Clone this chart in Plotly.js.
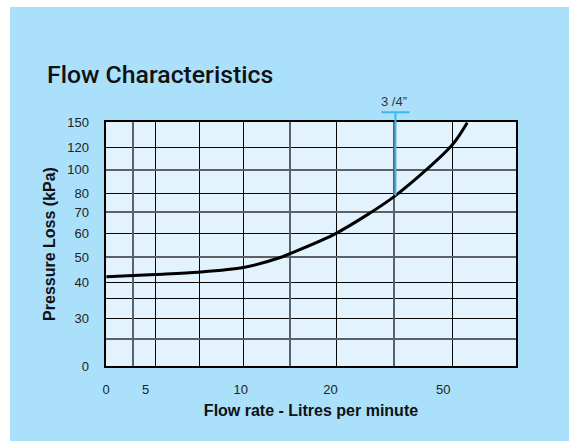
<!DOCTYPE html>
<html><head><meta charset="utf-8">
<script src="https://cdn.plot.ly/plotly-3.0.1.min.js"></script>
<style>
html,body{margin:0;padding:0;background:#fff;}
#bg{position:absolute;left:10px;top:7px;width:559px;height:434px;background:#abe0fb;}
#chart{position:absolute;left:0;top:0;width:579px;height:441px;}
</style></head><body>
<div id="bg"></div><div id="chart"></div>
<script>
// Data (flow in L/min, pressure loss in kPa)
const flow = [3.47, 5.07, 7.06, 10, 13.3, 14.4, 20.4, 32.4, 50.1, 56.4];
const pressure = [41.8, 42.6, 43.4, 45.1, 49.0, 50.7, 59.7, 81.7, 123.7, 149.2];
const xTickLabels = ['0', '5', '10', '20', '50'];
const yTickLabels = ['0', '30', '40', '50', '60', '70', '80', '100', '120', '150'];
const markerLabel = '3 /4\u201D';
const markerIndex = 7;

// Axis configuration (where the printed grid and labels sit)
const xLabelPos = [3.46, 4.7, 9.8, 19.6, 46.9];
const xGridDark = [5.08, 7.1, 10, 20.5, 50.4];
const xGridGrey = [4.25, 14.3, 32.1];
const yLabelPos = [20, 29.7, 39.8, 49.0, 59.7, 71.2, 83.1, 101.3, 121.4, 150];
const yGridDark = [29.7, 34.8, 39.8, 59.7, 83.1, 121.4];
const yGridGrey = [24.9, 49.0, 71.2, 101.3];

const FONT = 'Liberation Sans, Arial, Helvetica, sans-serif';
const xRange = [0.539, 1.915];
const yRange = [Math.log10(20), Math.log10(150)];
const pxPerDecadeX = 298;

const traces = [
  {x: [], y: [], mode: 'lines', xaxis: 'x3', yaxis: 'y3', showlegend: false, hoverinfo: 'skip'},
  {x: [], y: [], mode: 'lines', xaxis: 'x2', yaxis: 'y2', showlegend: false, hoverinfo: 'skip'},
  {x: flow, y: pressure, mode: 'lines', xaxis: 'x', yaxis: 'y',
   line: {color: '#000', width: 3, shape: 'spline', smoothing: 0.8},
   hoverinfo: 'x+y', showlegend: false}
];

const base = {type: 'log', autorange: false, tickmode: 'array', ticks: '', zeroline: false, fixedrange: true};

const markX = flow[markerIndex];
const markY = pressure[markerIndex];
const capHalf = Math.pow(10, 14 / pxPerDecadeX);

const layout = {
  width: 579, height: 441,
  margin: {l: 106, r: 63, t: 122, b: 75},
  paper_bgcolor: 'rgba(0,0,0,0)',
  plot_bgcolor: '#e2f3fd',
  font: {family: FONT, color: '#222'},
  title: {text: 'Flow Characteristics', font: {family: 'Roboto, ' + FONT, size: 24.8, color: '#111', weight: 500},
    xref: 'container', yref: 'container', x: 47/579, xanchor: 'left', y: 1 - 74/441, yanchor: 'middle'},
  // dark grid + frame
  xaxis: Object.assign({}, base, {range: xRange, tickvals: xGridDark, showticklabels: false,
    showgrid: true, gridcolor: '#050505', gridwidth: 1,
    showline: true, mirror: true, linecolor: '#000', linewidth: 2}),
  yaxis: Object.assign({}, base, {range: yRange, tickvals: yGridDark, showticklabels: false,
    showgrid: true, gridcolor: '#050505', gridwidth: 1,
    showline: true, mirror: true, linecolor: '#000', linewidth: 2}),
  // grey grid
  xaxis3: Object.assign({}, base, {overlaying: 'x', anchor: 'y3', range: xRange, tickvals: xGridGrey,
    showticklabels: false, showgrid: true, gridcolor: '#5b6166', gridwidth: 2}),
  yaxis3: Object.assign({}, base, {overlaying: 'y', anchor: 'x3', range: yRange, tickvals: yGridGrey,
    showticklabels: false, showgrid: true, gridcolor: '#5b6166', gridwidth: 2}),
  // labels
  xaxis2: Object.assign({}, base, {overlaying: 'x', anchor: 'y2', side: 'bottom', range: xRange,
    tickvals: xLabelPos, ticktext: xTickLabels, showgrid: false,
    ticklabelstandoff: 14, tickfont: {family: FONT, size: 13, color: '#222'},
    title: {text: 'Flow rate - Litres per minute', font: {family: FONT, size: 16, color: '#111', weight: 700}, standoff: 8}}),
  yaxis2: Object.assign({}, base, {overlaying: 'y', anchor: 'x2', side: 'left', range: yRange,
    tickvals: yLabelPos, ticktext: yTickLabels, showgrid: false,
    ticklabelstandoff: 16, tickfont: {family: FONT, size: 13, color: '#222'},
    title: {text: 'Pressure Loss (kPa)', font: {family: FONT, size: 16, color: '#111', weight: 700}, standoff: 7}}),
  shapes: [
    {type: 'line', xref: 'x', yref: 'y', x0: markX, x1: markX, y0: markY, y1: 150,
     line: {color: '#3db9ea', width: 2}, layer: 'above'},
    {type: 'line', xref: 'x', yref: 'paper', x0: markX, x1: markX, y0: 1, y1: 1.04,
     line: {color: '#3db9ea', width: 2}, layer: 'above'},
    {type: 'line', xref: 'x', yref: 'paper', x0: markX / capHalf, x1: markX * capHalf, y0: 1.04, y1: 1.04,
     line: {color: '#3db9ea', width: 2}, layer: 'above'}
  ],
  annotations: [
    {text: markerLabel, xref: 'x', yref: 'paper', x: Math.log10(markX), y: 1.04, yanchor: 'bottom', yshift: 1,
     xshift: -1, showarrow: false, font: {family: FONT, size: 13, color: '#333'}}
  ]
};

Plotly.newPlot('chart', traces, layout, {displayModeBar: false, staticPlot: true});
</script>
</body></html>
